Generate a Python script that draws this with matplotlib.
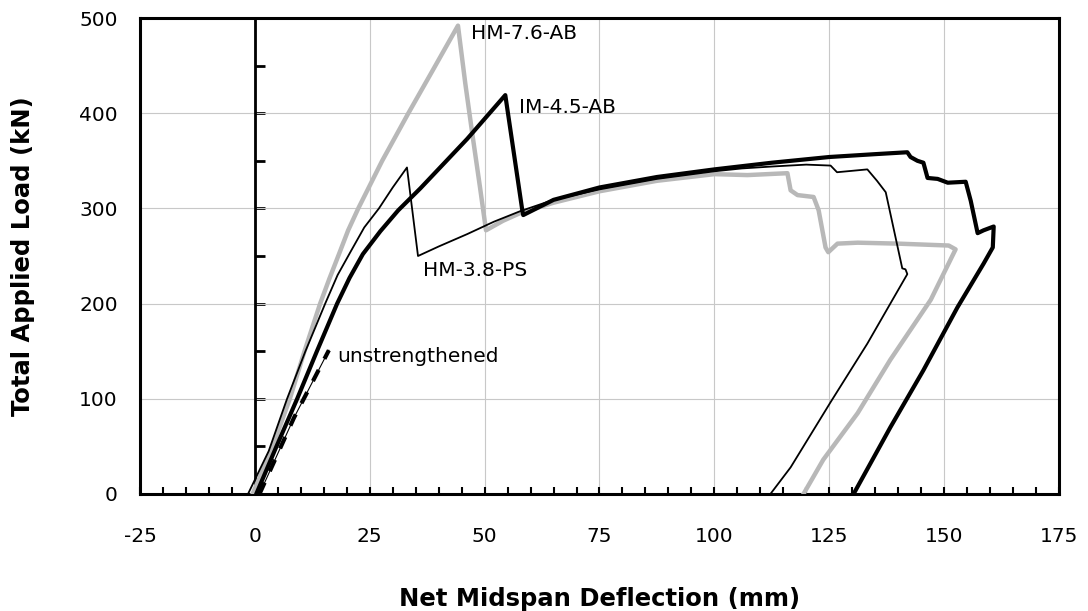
import matplotlib
matplotlib.use("Agg")
import matplotlib.pyplot as plt
from matplotlib.ticker import MultipleLocator

plt.rcParams['font.family'] = ['DejaVu Sans']
plt.rcParams['axes.unicode_minus'] = False

# HM-3.8-PS (thin black)
ps_x = [-1.5, 3.0, 7.0, 11.0, 15.3, 18.0, 21.0, 23.8, 27.0, 30.0, 33.1, 35.5, 40.0, 46.2, 52.0, 57.7, 65.0, 75.0,
        87.5, 100.0, 106.0, 112.5, 120.0, 125.3, 126.7, 133.3, 135.4, 137.3, 140.9, 141.6, 142.0, 138.3,
        133.3, 125.3, 116.6, 112.2]
ps_y = [0, 45, 100, 150, 200, 230, 256, 280, 300, 322, 343, 250, 260, 273, 286, 297, 309, 320,
        331, 339, 342, 344, 346, 345, 338, 341, 329, 317, 237, 236, 231, 200,
        158, 96.5, 28, 0]

# HM-7.6-AB (grey)
hm76_x = [-0.5, 3.5, 7.6, 10.8, 14.2, 16.2, 18.3, 20.3, 22.5, 27.7, 33.4, 38.7, 44.2, 45.8, 47.3, 49.0, 50.3,
          54.0, 57.7, 65.0, 75.0, 87.5, 100.0, 107.2, 115.9, 116.6, 118.1, 121.6, 122.7, 124.2, 124.8,
          126.8, 131.2, 140.0, 151.0, 152.5, 147.1, 138.3, 131.2, 123.7, 119.4]
hm76_y = [0, 45, 100, 150, 200, 226, 252, 277, 300, 350, 400, 445, 492, 431, 379, 322, 277,
          287, 295, 306, 318, 329, 336, 335, 337, 319, 314, 312, 298, 259, 254,
          263, 264, 263, 261, 257, 204, 141, 85, 36, 0]

# IM-4.5-AB (thick black)
im45_x = [0.3, 4.7, 9.2, 13.5, 17.9, 20.6, 23.5, 27.3, 31.2, 36.0, 46.2, 54.5, 58.2, 58.4, 65.0, 75.0,
          87.5, 100.0, 112.5, 125.0, 135.0, 142.0, 142.7, 144.2, 145.5, 146.4, 148.6, 150.8, 154.7,
          155.8, 157.3, 158.6, 160.8, 160.6, 158.6, 152.9, 145.5, 138.3, 130.3]
im45_y = [0, 50, 100, 150, 200, 227, 252, 276, 298, 321, 373, 419, 298, 293, 309, 322,
          333, 341, 348, 354, 357, 359, 354, 350, 348, 332, 331, 327, 328,
          308, 274, 277, 281, 259, 242, 196, 130, 70, 0]

# unstrengthened
un_x = [1.0, 8.5, 16.1]
un_y = [0, 80, 151]

labels = ["HM-7.6-AB", "IM-4.5-AB", "HM-3.8-PS", "unstrengthened"]
label_x = [47.0, 57.5, 36.6, 17.9]
label_y = [484, 406, 235, 144]

fig = plt.figure(figsize=(10.88, 6.11), dpi=100)
ax = fig.add_axes([0.1287, 0.1915, 0.8446, 0.779])

ax.plot(hm76_x, hm76_y, color='#b8b8b8', lw=3.2, solid_joinstyle='round', zorder=3)
ax.plot(ps_x, ps_y, color='black', lw=1.3, zorder=4)
ax.plot(im45_x, im45_y, color='black', lw=3.0, solid_joinstyle='round', zorder=5)
ax.plot(un_x, un_y, color='black', lw=0.8, zorder=6)
ax.plot(un_x, un_y, color='black', lw=3.0, dashes=(3, 3), zorder=6)

for t, lx, ly in zip(labels, label_x, label_y):
    ax.text(lx, ly, t, fontsize=14.5, va='center', ha='left', zorder=7)

ax.set_xlim(-25, 175)
ax.set_ylim(0, 500)
ax.xaxis.set_major_locator(MultipleLocator(25))
ax.xaxis.set_minor_locator(MultipleLocator(5))
ax.yaxis.set_major_locator(MultipleLocator(100))
ax.grid(True, which='major', color='#c8c8c8', lw=0.8, zorder=0)
ax.set_axisbelow(True)
ax.axvline(0, color='black', lw=2, zorder=2)

ax.tick_params(axis='x', which='both', direction='in', length=5, width=1.5, pad=24, labelsize=14.5)
ax.tick_params(axis='y', which='both', length=0, pad=16, labelsize=14.5)
for s in ax.spines.values():
    s.set_linewidth(2.2)

sec = ax.secondary_yaxis(0.125)
sec.set_yticks(list(range(0, 501, 50)))
sec.tick_params(axis='y', direction='in', length=7, width=2, labelleft=False, labelright=False)

ax.set_xlabel("Net Midspan Deflection (mm)", fontsize=17.5, fontweight='bold', labelpad=29)
ax.set_ylabel("Total Applied Load (kN)", fontsize=17.5, fontweight='bold', labelpad=32)

fig.savefig("out.png", dpi=100)
